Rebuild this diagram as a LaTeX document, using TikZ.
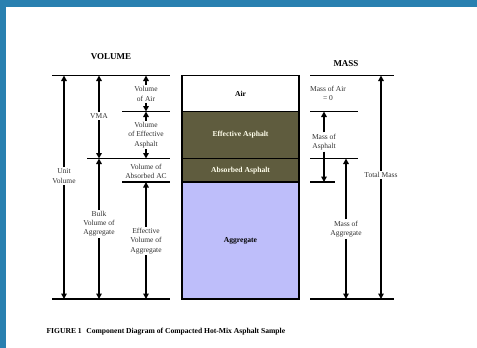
\documentclass[tikz,border=0pt]{standalone}
\usepackage{fontspec}
\setmainfont{Liberation Serif}
\usetikzlibrary{arrows.meta,positioning}
\definecolor{framebg}{RGB}{41,128,176}
\definecolor{asphalt}{RGB}{95,92,62}
\definecolor{aggr}{RGB}{190,190,250}
\tikzset{
  lbl/.style={font=\fontsize{7.5}{9.2}\selectfont, text=black!80, align=center, inner sep=1.5pt},
  title/.style={font=\bfseries\fontsize{9}{10}\selectfont},
  hline/.style={line width=1.8pt},
  dim/.style={line width=1.4pt, -{Triangle[length=5.5pt,width=5.5pt]}},
  layer/.style={draw, line width=1.4pt, outer sep=0pt, minimum width=117pt, font=\bfseries\fontsize{7.6}{9}\selectfont},
}
\begin{document}
\begin{tikzpicture}[x=1pt,y=-1pt]
\pgfmathsetmacro{\ya}{75.5}
\pgfmathsetmacro{\yb}{111.5}
\pgfmathsetmacro{\yc}{158.5}
\pgfmathsetmacro{\yd}{182}
\pgfmathsetmacro{\ye}{299}
\useasboundingbox (0,0) rectangle (477,348);
\fill[framebg] (0,0) rectangle (477,348);
\fill[white] (6,7) rectangle (477,348);
%
\node[title] (voltitle) at (111,57) {VOLUME};
\node[title] (masstitle) at (346,64) {MASS};
%
\node[layer, anchor=north west, minimum height=36pt, fill=white] (air) at (182,\ya) {Air};
\node[layer, below=0pt of air, minimum height=47pt, fill=asphalt, text=white!92!yellow] (effasph) {Effective Asphalt};
\node[layer, below=0pt of effasph, minimum height=23.5pt, fill=asphalt, text=white!92!yellow] (absasph) {Absorbed Asphalt};
\node[layer, below=0pt of absasph, minimum height=117pt, fill=aggr] (aggr) {Aggregate};
%
\coordinate (va) at (52,\ya);
\coordinate (vb) at (122,\yb);
\coordinate (vc) at (87,\yc);
\coordinate (vd) at (122,\yd);
\coordinate (ve) at (52,\ye);
\draw[hline] (va) -- (170,\ya);
\draw[hline] (vb) -- (170,\yb);
\draw[hline] (vc) -- (170,\yc);
\draw[hline] (vd) -- (170,\yd);
\draw[hline] (ve) -- (170,\ye);
%
\coordinate (ma) at (310,\ya);
\coordinate (mb) at (310,\yb);
\coordinate (mc) at (310,\yc);
\coordinate (md) at (310,\yd);
\coordinate (me) at (310,\ye);
\draw[hline] (ma) -- (394,\ya);
\draw[hline] (mb) -- (358,\yb);
\draw[hline] (mc) -- (358,\yc);
\draw[hline] (md) -- (335,\yd);
\draw[hline] (me) -- (394,\ye);
%
\node[lbl] (unitvol) at (64,176) {Unit\\Volume};
\draw[dim] (unitvol) -- (unitvol |- va);
\draw[dim] (unitvol) -- (unitvol |- ve);
%
\node[lbl] (vma) at (99,116) {VMA};
\draw[dim] (vma) -- (vma |- va);
\draw[dim] (vma) -- (vma |- vc);
%
\node[lbl] (bulkvol) at (99,224) {Bulk\\Volume of\\Aggregate};
\draw[dim] (bulkvol) -- (bulkvol |- vc);
\draw[dim] (bulkvol) -- (bulkvol |- ve);
%
\node[lbl] (volair) at (146,94) {Volume\\of Air};
\draw[dim] (volair) -- (volair |- va);
\draw[dim] (volair) -- (volair |- vb);
%
\node[lbl] (voleff) at (146,135) {Volume\\of Effective\\Asphalt};
\draw[dim] (voleff) -- (voleff |- vb);
\draw[dim] (voleff) -- (voleff |- vc);
%
\node[lbl] (volabs) at (146,171) {Volume of\\Absorbed AC};
%
\node[lbl] (effvol) at (146,241) {Effective\\Volume of\\Aggregate};
\draw[dim] (effvol) -- (effvol |- vd);
\draw[dim] (effvol) -- (effvol |- ve);
%
\node[lbl] (massair) at (328,93) {Mass of Air\\= 0};
%
\node[lbl] (massasph) at (324,142) {Mass of\\Asphalt};
\draw[dim] (massasph) -- (massasph |- mb);
\draw[dim] (massasph) -- (massasph |- md);
%
\node[lbl] (massaggr) at (346,229) {Mass of\\Aggregate};
\draw[dim] (massaggr) -- (massaggr |- mc);
\draw[dim] (massaggr) -- (massaggr |- me);
%
\node[lbl] (totmass) at (381,175) {Total Mass};
\draw[dim] (totmass) -- (totmass |- ma);
\draw[dim] (totmass) -- (totmass |- me);
%
\node[anchor=west, font=\bfseries\fontsize{7.6}{9}\selectfont] (caption) at (43,332) {FIGURE 1\hspace{0.6em}Component Diagram of Compacted Hot-Mix Asphalt Sample};
\end{tikzpicture}
\end{document}
